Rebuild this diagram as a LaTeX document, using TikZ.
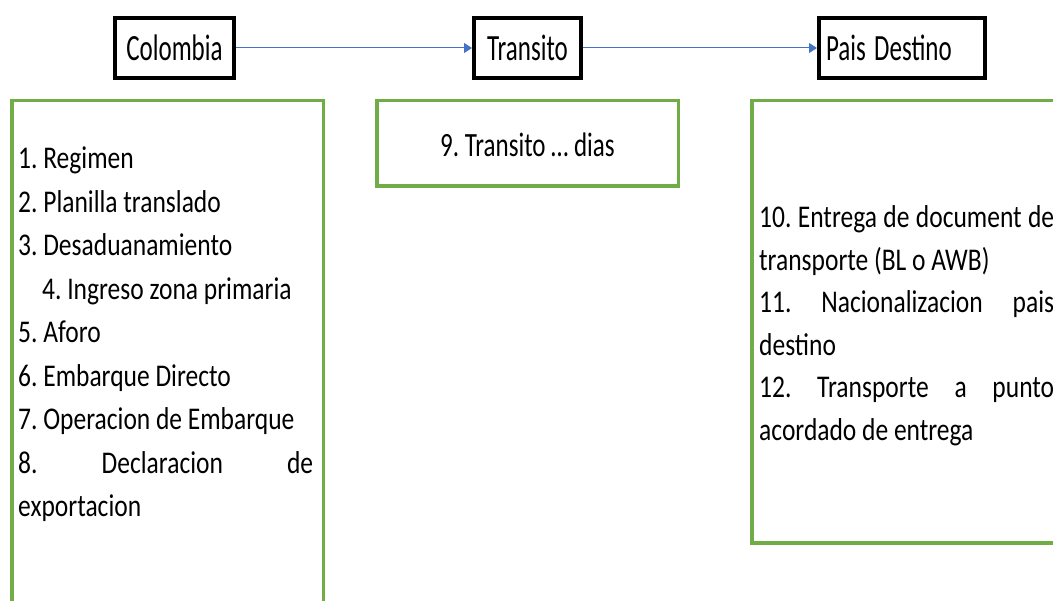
\documentclass[tikz,border=0pt]{standalone}
\usepackage{graphicx}
\usepackage{fontspec}
\setmainfont{Carlito}
\usetikzlibrary{positioning, fit, arrows.meta}
\definecolor{framegreen}{HTML}{70AD47}
\definecolor{arrowblue}{HTML}{4472C4}
\frenchspacing
\newcommand{\hdrtext}[1]{\scalebox{1}[1.48]{#1}}
\newcommand{\stepslist}[2]{\scalebox{1}[1.24]{\parbox[t]{295pt}{\fontsize{25.5}{#1}\selectfont #2}}}

\begin{document}
\begin{tikzpicture}[
    x=1pt, y=1pt,
    hdr/.style={draw, line width=4pt, minimum width=107pt, minimum height=60pt, inner xsep=11pt, font=\fontsize{25}{30}\selectfont},
    frame/.style={draw=framegreen, line width=3.5pt, inner sep=0pt},
    steps/.style={inner sep=0pt, anchor=base west, font=\fontsize{25}{30}\selectfont},
    arr/.style={-{Triangle[length=8pt, width=10pt]}, draw=arrowblue, line width=1pt}
]
\useasboundingbox (0,0) rectangle (1053,-601);

% Headers
\node[hdr, minimum width=119pt] (colombia) at (174.5,-48) {\hdrtext{Colombia}};
\node[hdr, right=236pt of colombia] (transito) {\hdrtext{Transito}};
\node[hdr, right=234pt of transito, text width=152pt, inner xsep=7pt, align=left] (destino) {\hdrtext{Pais Destino}};

% Steps per stage
\node[steps] (colombia_steps) at (18,-168.5) {\stepslist{35.1}{%
1. Regimen\\
2. Planilla translado\\
3. Desaduanamiento\\
\hspace*{24pt}4. Ingreso zona primaria\\
5. Aforo\\
6. Embarque Directo\\
7. Operacion de Embarque\\
8. Declaracion de\linebreak exportacion}};

\node[steps, anchor=base] (transito_steps) at (527.5,-157) {\scalebox{1}[1.36]{9. Transito … dias}};

\node[steps] (destino_steps) at (759,-228) {\stepslist{34.2}{%
10. Entrega de document de\linebreak transporte (BL o AWB)\par
11. Nacionalizacion pais\linebreak destino\par
12. Transporte a punto\linebreak acordado de entrega}};

% Connections
\draw[arr] (colombia) -- (transito);
\draw[arr] (transito) -- (destino);

% Frames round the steps
\coordinate (colombia_nw) at (11.75,-100.75);
\coordinate (colombia_se) at (323.25,-640);
\node[frame, fit=(colombia_nw) (colombia_se)] (colombia_box) {};

\coordinate (transito_nw) at (376.75,-100.75);
\coordinate (transito_se) at (678.25,-186.25);
\node[frame, fit=(transito_nw) (transito_se)] (transito_box) {};

\coordinate (destino_nw) at (751.75,-100.75);
\coordinate (destino_se) at (1063.25,-543.25);
\node[frame, fit=(destino_nw) (destino_se)] (destino_box) {};

\end{tikzpicture}
\end{document}
